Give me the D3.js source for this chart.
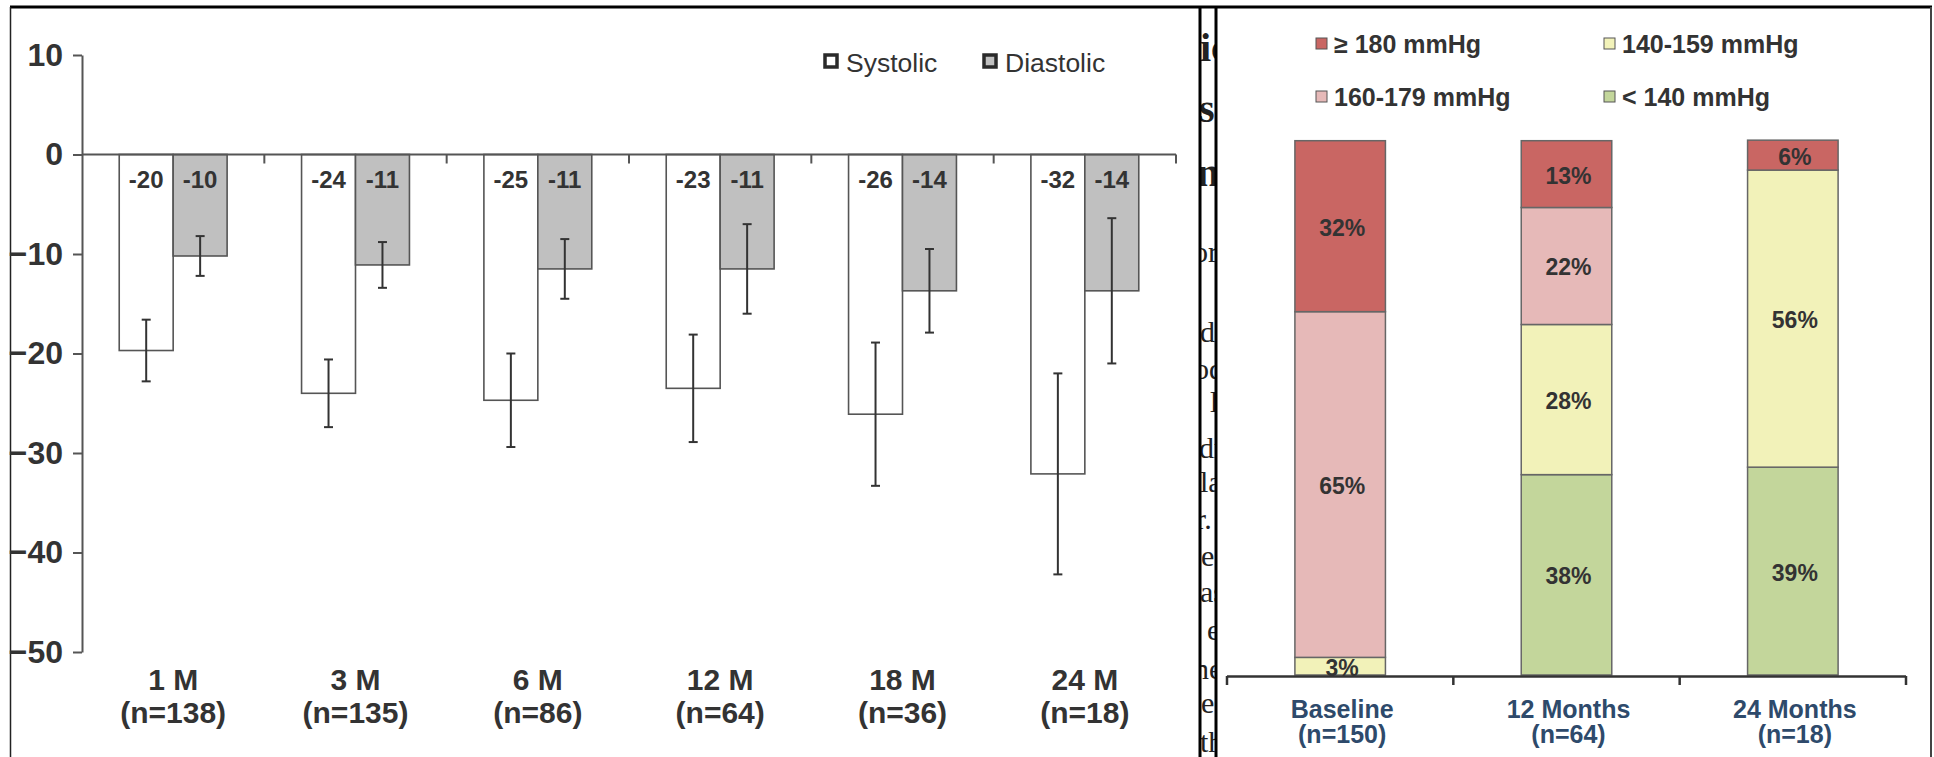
<!DOCTYPE html>
<html lang="en">
<head>
<meta charset="UTF-8">
<title>Blood pressure change and distribution</title>
<style>
    body, html {
        margin: 0;
        background: #fff;
        overflow: hidden;
    }
    text {
        font-family: "Liberation Sans", Arial, sans-serif;
    }
</style>
</head>
<body>
<script src="https://d3js.org/d3.v7.min.js"></script>
<script>
    // Left panel: mean change in office BP (mmHg)
    const months = ["1 M", "3 M", "6 M", "12 M", "18 M", "24 M"];
    const monthN = ["(n=138)", "(n=135)", "(n=86)", "(n=64)", "(n=36)", "(n=18)"];
    const bpKeys = ["Systolic", "Diastolic"];
    const systolic = [-19.7, -24.0, -24.7, -23.5, -26.1, -32.1];
    const diastolic = [-10.2, -11.1, -11.5, -11.5, -13.7, -13.7];
    const systolicErr = [3.1, 3.4, 4.7, 5.4, 7.2, 10.1];
    const diastolicErr = [2.0, 2.3, 3.0, 4.5, 4.2, 7.3];
    const yTicks = [10, 0, -10, -20, -30, -40, -50];

    // Right panel: share of patients by systolic level (%)
    const groups = ["Baseline", "12 Months", "24 Months"];
    const groupN = ["(n=150)", "(n=64)", "(n=18)"];
    const levels = ["≥ 180 mmHg", "160-179 mmHg", "140-159 mmHg", "< 140 mmHg"];
    const over180 = [32.0, 12.5, 5.6];
    const from160 = [64.7, 21.9, 0];
    const from140 = [3.3, 28.1, 55.6];
    const under140 = [0, 37.5, 38.9];

    const levelColor = {
        "≥ 180 mmHg": "#c96663",
        "160-179 mmHg": "#e6b9b8",
        "140-159 mmHg": "#f2f2b9",
        "< 140 mmHg": "#c3d69b"
    };

    // scraps of the page text that show between the two panels
    const pageText = [
        {t: "ic", x: 1200, y: 61, s: 40, b: true},
        {t: "s", x: 1199, y: 122, s: 40, b: true},
        {t: "n", x: 1197, y: 186, s: 40, b: true},
        {t: "or", x: 1193, y: 262, s: 30},
        {t: "d", x: 1200, y: 342, s: 30},
        {t: "od", x: 1194, y: 379, s: 30},
        {t: "l", x: 1210, y: 412, s: 30},
        {t: "dr", x: 1199, y: 458, s: 30},
        {t: "la", x: 1200, y: 492, s: 30},
        {t: "r.", x: 1196, y: 529, s: 30},
        {t: "e", x: 1201, y: 566, s: 30},
        {t: "as", x: 1200, y: 602, s: 30},
        {t: "e", x: 1207, y: 640, s: 30},
        {t: "ne", x: 1194, y: 679, s: 30},
        {t: "e", x: 1201, y: 713, s: 30},
        {t: "th", x: 1200, y: 752, s: 30}
    ];

    const width = 1934, height = 757;

    const svg = d3.select("body").append("svg")
        .attr("width", width)
        .attr("height", height);

    svg.append("rect")
        .attr("width", width)
        .attr("height", height)
        .attr("fill", "#fff");

    const defs = svg.append("defs");
    defs.append("clipPath").attr("id", "strip")
        .append("rect").attr("x", 1201).attr("y", 8).attr("width", 14).attr("height", height);
    defs.append("clipPath").attr("id", "rightPlot")
        .append("rect").attr("x", 1220).attr("y", 100).attr("width", 700).attr("height", 578);

    // page text strip
    svg.append("g")
        .attr("clip-path", "url(#strip)")
        .selectAll("text")
        .data(pageText)
        .enter().append("text")
        .attr("x", d => d.x)
        .attr("y", d => d.y)
        .style("font-family", "'Liberation Serif', 'Times New Roman', serif")
        .style("font-size", d => d.s + "px")
        .style("font-weight", d => d.b ? "bold" : "normal")
        .style("fill", "#222")
        .text(d => d.t);

    // frame lines
    const frame = svg.append("g");
    frame.append("line").attr("x1", 10).attr("x2", 1932).attr("y1", 7).attr("y2", 7)
        .attr("stroke", "#000").attr("stroke-width", 3);
    frame.append("line").attr("x1", 10.5).attr("x2", 10.5).attr("y1", 7).attr("y2", height)
        .attr("stroke", "#222").attr("stroke-width", 1.5);
    frame.append("line").attr("x1", 1200).attr("x2", 1200).attr("y1", 6).attr("y2", height)
        .attr("stroke", "#000").attr("stroke-width", 3);
    frame.append("line").attr("x1", 1216).attr("x2", 1216).attr("y1", 6).attr("y2", height)
        .attr("stroke", "#000").attr("stroke-width", 3);
    frame.append("line").attr("x1", 1931).attr("x2", 1931).attr("y1", 7).attr("y2", height)
        .attr("stroke", "#444").attr("stroke-width", 2);

    // ---------------- left panel ----------------
    const y = d3.scaleLinear().domain([-50, 10]).range([652, 55]);
    const x0 = d3.scaleBand().domain(months).range([82, 1176]);
    const x1 = d3.scaleBand().domain(bpKeys).range([0, x0.bandwidth()]).paddingOuter(0.69);

    const rows = months.map((m, i) => ({
        month: m,
        values: [
            {key: "Systolic", v: systolic[i], e: systolicErr[i]},
            {key: "Diastolic", v: diastolic[i], e: diastolicErr[i]}
        ]
    }));

    const left = svg.append("g");

    const groupG = left.selectAll(".month")
        .data(rows)
        .enter().append("g")
        .attr("transform", d => `translate(${x0(d.month)},0)`);

    groupG.selectAll("rect")
        .data(d => d.values)
        .enter().append("rect")
        .attr("x", d => x1(d.key))
        .attr("y", y(0))
        .attr("width", x1.bandwidth())
        .attr("height", d => y(d.v) - y(0))
        .attr("fill", d => d.key === "Systolic" ? "#fff" : "#c0c0c0")
        .attr("stroke", "#555")
        .attr("stroke-width", 1.6);

    // error bars
    const err = groupG.selectAll(".err")
        .data(d => d.values)
        .enter().append("g")
        .attr("stroke", "#333")
        .attr("stroke-width", 2);
    err.append("line")
        .attr("x1", d => x1(d.key) + x1.bandwidth() / 2)
        .attr("x2", d => x1(d.key) + x1.bandwidth() / 2)
        .attr("y1", d => y(d.v + d.e))
        .attr("y2", d => y(d.v - d.e));
    err.selectAll(".cap")
        .data(d => [d.v + d.e, d.v - d.e].map(t => ({key: d.key, t})))
        .enter().append("line")
        .attr("x1", d => x1(d.key) + x1.bandwidth() / 2 - 4.5)
        .attr("x2", d => x1(d.key) + x1.bandwidth() / 2 + 4.5)
        .attr("y1", d => y(d.t))
        .attr("y2", d => y(d.t));

    // value labels inside bars
    groupG.selectAll(".val")
        .data(d => d.values)
        .enter().append("text")
        .attr("x", d => x1(d.key) + x1.bandwidth() / 2)
        .attr("y", 188)
        .attr("text-anchor", "middle")
        .style("font-size", "24px")
        .style("font-weight", "bold")
        .style("fill", "#333")
        .text(d => Math.round(d.v));

    // y axis
    const yAxis = left.append("g")
        .attr("transform", `translate(${x0.range()[0]},0)`)
        .call(d3.axisLeft(y).tickValues(yTicks).tickSize(9).tickSizeOuter(0).tickPadding(10));
    yAxis.select(".domain").attr("stroke", "#555").attr("stroke-width", 2);
    yAxis.selectAll(".tick line").attr("stroke", "#555").attr("stroke-width", 2);
    yAxis.selectAll(".tick text")
        .style("font-family", "'Liberation Sans', Arial, sans-serif")
        .style("font-size", "32px")
        .style("font-weight", "bold")
        .style("fill", "#333");

    // zero line with category ticks
    left.append("line")
        .attr("x1", x0.range()[0]).attr("x2", x0.range()[1])
        .attr("y1", y(0)).attr("y2", y(0))
        .attr("stroke", "#555").attr("stroke-width", 2);
    left.selectAll(".xtick")
        .data(months)
        .enter().append("line")
        .attr("x1", d => x0(d) + x0.bandwidth())
        .attr("x2", d => x0(d) + x0.bandwidth())
        .attr("y1", y(0))
        .attr("y2", y(0) + 9)
        .attr("stroke", "#555").attr("stroke-width", 2);

    // category labels
    const catLab = left.selectAll(".cat")
        .data(months)
        .enter().append("text")
        .attr("text-anchor", "middle")
        .style("font-size", "30px")
        .style("font-weight", "bold")
        .style("fill", "#333");
    catLab.append("tspan")
        .attr("x", d => x0(d) + x0.bandwidth() / 2)
        .attr("y", 690)
        .text(d => d);
    catLab.append("tspan")
        .attr("x", d => x0(d) + x0.bandwidth() / 2)
        .attr("y", 723)
        .text((d, i) => monthN[i]);

    // legend
    const legL = left.selectAll(".legL")
        .data(bpKeys)
        .enter().append("g")
        .attr("transform", (d, i) => `translate(${i === 0 ? 825 : 984},55)`);
    legL.append("rect")
        .attr("width", 12).attr("height", 12)
        .attr("fill", d => d === "Systolic" ? "#fff" : "#c0c0c0")
        .attr("stroke", "#2a2a2a").attr("stroke-width", 3.5);
    legL.append("text")
        .attr("x", 21).attr("y", 17)
        .style("font-size", "26.5px")
        .style("fill", "#333")
        .text(d => d);

    // ---------------- right panel ----------------
    const yR = d3.scaleLinear().domain([0, 100]).range([675, 140.7]);
    const xR = d3.scaleBand().domain(groups).range([1227, 1906]).paddingInner(0.6).paddingOuter(0.3);

    const table = groups.map((g, i) => ({
        group: g,
        "≥ 180 mmHg": over180[i],
        "160-179 mmHg": from160[i],
        "140-159 mmHg": from140[i],
        "< 140 mmHg": under140[i]
    }));
    const stacked = d3.stack().keys(levels.slice().reverse())(table);

    const right = svg.append("g");
    const plot = right.append("g").attr("clip-path", "url(#rightPlot)");

    stacked.forEach(s => {
        const segs = s.filter(d => d[1] - d[0] > 0);
        plot.selectAll(null)
            .data(segs)
            .enter().append("rect")
            .attr("x", d => xR(d.data.group))
            .attr("y", d => yR(d[1]))
            .attr("width", xR.bandwidth())
            .attr("height", d => yR(d[0]) - yR(d[1]))
            .attr("fill", levelColor[s.key])
            .attr("stroke", "#666")
            .attr("stroke-width", 1.5);
    });

    stacked.forEach(s => {
        const segs = s.filter(d => d[1] - d[0] > 0);
        plot.selectAll(null)
            .data(segs)
            .enter().append("text")
            .attr("x", d => xR(d.data.group) + xR.bandwidth() / 2 + 2)
            .attr("y", d => (yR(d[0]) + yR(d[1])) / 2 + 9.5)
            .attr("text-anchor", "middle")
            .style("font-size", "23px")
            .style("font-weight", "bold")
            .style("fill", "#333")
            .text(d => Math.round(d[1] - d[0]) + "%");
    });

    // x axis
    right.append("line")
        .attr("x1", xR.range()[0]).attr("x2", xR.range()[1])
        .attr("y1", 676.5).attr("y2", 676.5)
        .attr("stroke", "#333").attr("stroke-width", 2.5);
    const bounds = [xR.range()[0]].concat(groups.map(g => xR(g) + xR.bandwidth() / 2 + xR.step() / 2));
    right.selectAll(".rtick")
        .data(bounds)
        .enter().append("line")
        .attr("x1", d => d).attr("x2", d => d)
        .attr("y1", 676).attr("y2", 685)
        .attr("stroke", "#333").attr("stroke-width", 2.5);

    const grpLab = right.selectAll(".grp")
        .data(groups)
        .enter().append("text")
        .attr("text-anchor", "middle")
        .style("font-size", "25px")
        .style("font-weight", "bold")
        .style("fill", "#2e4a6b");
    grpLab.append("tspan")
        .attr("x", d => xR(d) + xR.bandwidth() / 2 + 2)
        .attr("y", 718)
        .text(d => d);
    grpLab.append("tspan")
        .attr("x", d => xR(d) + xR.bandwidth() / 2 + 2)
        .attr("y", 743)
        .text((d, i) => groupN[i]);

    // legend, two columns
    const legPos = {
        "≥ 180 mmHg": [1316, 38],
        "140-159 mmHg": [1604, 38],
        "160-179 mmHg": [1316, 91],
        "< 140 mmHg": [1604, 91]
    };
    const legR = right.selectAll(".legR")
        .data(levels)
        .enter().append("g")
        .attr("transform", d => `translate(${legPos[d][0]},${legPos[d][1]})`);
    legR.append("rect")
        .attr("width", 11).attr("height", 11)
        .attr("fill", d => levelColor[d])
        .attr("stroke", "#555").attr("stroke-width", 1);
    legR.append("text")
        .attr("x", 18).attr("y", 15)
        .style("font-size", "25px")
        .style("font-weight", "bold")
        .style("fill", "#333")
        .text(d => d);
</script>
</body>
</html>
